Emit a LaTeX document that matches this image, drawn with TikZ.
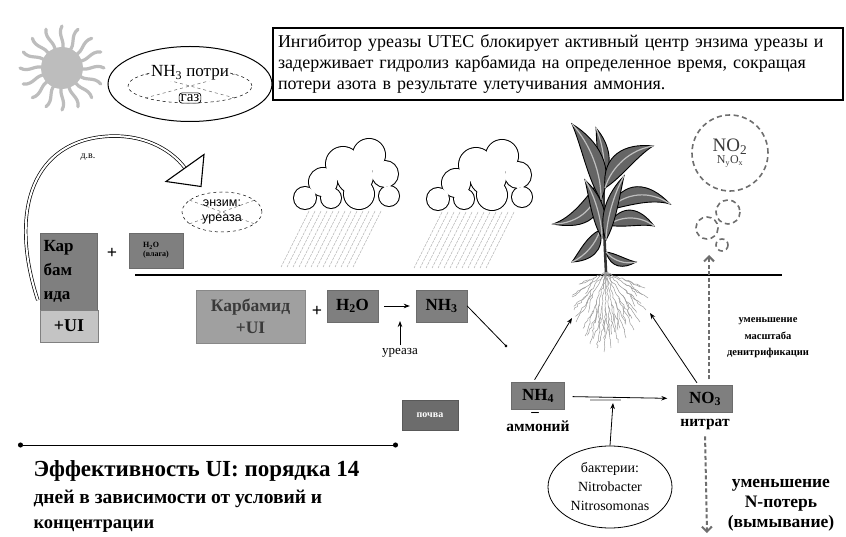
\documentclass[tikz,border=0pt]{standalone}
\usepackage{fontspec}
\setmainfont{Liberation Serif}
\setsansfont{Liberation Sans}
\usepackage{tikz}
\usetikzlibrary{arrows.meta,positioning,calc,shapes.geometric,
                decorations.pathmorphing}
\definecolor{BoxDark}{HTML}{7F7F7F}
\definecolor{BoxMid}{HTML}{A0A0A0}
\definecolor{BoxPale}{HTML}{C4C4C4}
\definecolor{InkGray}{HTML}{3A3A3A}
\definecolor{SunGray}{HTML}{BDBDBD}
\definecolor{LeafGray}{HTML}{656565}
\definecolor{RootGray}{HTML}{9C9C9C}
\definecolor{GasGray}{HTML}{6E6E6E}

\newcommand{\fsz}[2]{\fontsize{#1}{#2}\selectfont}
% one leaf: base, tip, bend, half width
\newcommand{\cornleaf}[4]{%
  \filldraw[leafbody] (#1)
    .. controls ($(#1)!.3!(#2)!{(#3+#4)*1pt}!90:(#2)$)
             and ($(#1)!.7!(#2)!{(#3+.6*#4)*1pt}!90:(#2)$) .. (#2)
    .. controls ($(#1)!.7!(#2)!{(#3-.6*#4)*1pt}!90:(#2)$)
             and ($(#1)!.3!(#2)!{(#3-#4)*1pt}!90:(#2)$) .. (#1) -- cycle;
  \draw[leafvein] (#1)
    .. controls ($(#1)!.3!(#2)!{#3*1pt}!90:(#2)$)
             and ($(#1)!.7!(#2)!{#3*1pt}!90:(#2)$) .. (#2);}

\tikzset{
  pics/raincloud/.style={code={
    \foreach \cx/\cy/\r in {12/60/11,30/44/14,50/26/17,76/17/16,92/36/13,
                            96/58/10,66/56/15,38/60/10,62/38/18}
      \filldraw[white,draw=black,line width=2pt] (\cx,\cy) circle (\r);
    \foreach \cx/\cy/\r in {12/60/11,30/44/14,50/26/17,76/17/16,92/36/13,
                            96/58/10,66/56/15,38/60/10,62/38/18}
      \fill[white] (\cx,\cy) circle (\r);
    \foreach \i in {0,...,12}
      \draw[rainline] (16+\i*6,73) -- ++(-28,56);
  }}}

\begin{document}
\begin{tikzpicture}[x=1pt,y=-1pt,
  darkbox/.style={rectangle,fill=BoxDark,draw=BoxDark!85!black,line width=.4pt,
                  inner sep=0pt,font=\fsz{17}{20}\bfseries},
  midbox/.style={darkbox,fill=BoxMid,draw=BoxMid!85!black},
  arr/.style={-{Stealth[length=6pt,width=4.5pt]},line width=.8pt},
  gasring/.style={draw=GasGray,dashed,dash pattern=on 5pt off 3.5pt,line width=1.6pt},
  gasarr/.style={gasring,-{Straight Barb[length=5pt,width=10pt]},line width=2pt,
                 dash pattern=on 4pt off 2.5pt},
  rainline/.style={gray!65,line width=.45pt,dash pattern=on 3pt off 1pt},
  sunray/.style={SunGray,line width=3.2pt,line cap=round},
  leafbody/.style={fill=LeafGray,draw=black,line width=.9pt},
  leafvein/.style={gray!50,line width=1.2pt},
  rootline/.style={RootGray,line width=.5pt,
                   decorate,decoration={random steps,segment length=3pt,amplitude=1pt}},
  crossline/.style={dashed,line width=.5pt,gray!80!black}]

\fill[white] (0,0) rectangle (846,537);
\useasboundingbox (0,0) rectangle (846,537);
\pgfmathsetseed{7}

% sun
\coordinate (sun) at (62,68);
\foreach \a in {0,22.5,...,337.5}
  \draw[sunray] ($(sun)+(\a:18)$) .. controls ($(sun)+(\a+9:27)$)
        and ($(sun)+(\a-9:33)$) .. ($(sun)+(\a:42)$);
\fill[SunGray] (sun) circle (21);

% ammonia loss
\node[draw,ellipse,minimum width=164pt,minimum height=75pt,line width=1pt] (loss) at (190,84) {};
\node[draw,dashed,ellipse,minimum width=124pt,minimum height=34pt,line width=.5pt] (lossin) at (190,86) {};
\draw[crossline] (lossin.165) -- (lossin.-15);
\draw[crossline] (lossin.195) -- (lossin.15);
\node[fill=white,inner sep=1pt,font=\fsz{17}{19}] (losstxt) at (190,73) {NH\textsubscript{3} потри};
\node[draw,fill=white,rounded corners=3pt,inner sep=1.5pt,line width=.7pt,
      font=\fsz{15}{17}] (gas) at (190,98) {газ};

% note on the inhibitor
\node[draw,line width=1.3pt,fill=white,minimum width=570pt,minimum height=72pt,
      text width=560pt,align=left,font=\fsz{18}{21}] (note) at (558,64)
  {Ингибитор уреазы UTEC блокирует активный центр энзима уреазы и\\
   задерживает гидролиз карбамида на определенное время, сокращая\\
   потери азота в результате улетучивания аммония.};

% surface application
\node[darkbox,minimum width=57pt,minimum height=77pt,text width=50pt,align=left,
      font=\fsz{17}{24}\bfseries] (karb) at (68.5,271.5) {Кар\\бам\\ида};
\node[darkbox,fill=BoxPale,draw=gray,minimum width=58pt,minimum height=32pt,
      font=\fsz{18}{20}\bfseries] (karbui) at (69,326) {+UI};
\node[font=\fsz{18}{20}\bfseries] (plusa) at (112,253) {+};
\node[darkbox,minimum width=54pt,minimum height=35pt,align=left,
      font=\fsz{8}{9}\bfseries] (h2oa) at (156,250.5) {H\textsubscript{2}O\\(влага)};
\node[font=\fsz{10}{12}] (dv) at (88,157) {д.в.};

\node[draw,dashed,ellipse,minimum width=80pt,minimum height=40pt,line width=.5pt] (enzring) at (222,212) {};
\draw[crossline] (enzring.160) -- (enzring.-20);
\draw[crossline] (enzring.200) -- (enzring.20);
\node[align=center,inner sep=0pt,font=\sffamily\fsz{12.5}{15}] (enz) at (222,212) {энзим:\\уреаза};

% double arc with open head
\coordinate (arcend) at (185,168);
\draw[double,double distance=2pt,line width=.7pt]
  ($(karb.south west)+(-2,-10)$) .. controls (10,215) and (30,146) .. (100,137)
  .. controls (140,132) and (170,148) .. (arcend);
\draw[fill=white,line width=1.1pt,line join=miter]
  ($(arcend)+(19,-13.5)$) -- ($(arcend)+(16,18.5)$) -- ($(arcend)+(-19,13.5)$) -- cycle;

% clouds with rain
\pic at (293,138) {raincloud};
\pic at (426,139) {raincloud};

% soil surface
\draw[line width=1.6pt] (135,275) -- (782,275);

% roots
\coordinate (rootbase) at (606,272);
\foreach \ex/\ey in {572/297,574/310,576/322,585/336,590/344,597/348,604/352,
                     611/348,618/343,626/338,634/330,640/322,646/310,648/298,645/288,580/284}{
  \draw[rootline] (rootbase) -- (\ex,\ey);
  \draw[rootline] ($(rootbase)!.45!(\ex,\ey)$) -- ($(rootbase)!.75!(\ex,\ey)+(5,3)$);
  \draw[rootline] ($(rootbase)!.6!(\ex,\ey)$) -- ($(rootbase)!.85!(\ex,\ey)+(-5,2)$);
}

% plant
\draw[line width=2.6pt,black!80] (606,272) .. controls (604,230) .. (603,160);
\cornleaf{604,178}{596,128}{-4}{9}
\cornleaf{600,180}{553,224}{18}{15}
\cornleaf{601,200}{572,124}{-10}{15}
\cornleaf{605,188}{653,146}{12}{15}
\cornleaf{608,210}{670,204}{16}{14}
\cornleaf{600,230}{572,262}{6}{12}
\cornleaf{608,225}{654,226}{10}{13}
\cornleaf{602,238}{585,180}{-5}{10}
\cornleaf{606,240}{624,176}{5}{10}
\cornleaf{606,252}{636,262}{-6}{8}

% under the surface
\node[midbox,minimum width=109pt,minimum height=53pt,align=center,text=InkGray,
      font=\fsz{17.5}{22}\bfseries] (karbamid) at (250.5,316.5) {Карбамид\\+UI};
\node[font=\fsz{18}{20}\bfseries] (plusb) at (317,311) {+};
\node[darkbox,minimum width=51pt,minimum height=32pt] (h2ob) at (352.5,306) {H\textsubscript{2}O};
\node[darkbox,minimum width=51pt,minimum height=32pt] (nh3) at (441.5,306) {NH\textsubscript{3}};
\node[font=\fsz{13}{15}] (ureaza) at (400,353) {уреаза};
\coordinate (cat) at (400,321);
\coordinate (nh3tip) at (507,347);
\draw[arr,shorten <=6pt,shorten >=6pt] (h2ob) -- (nh3);
\draw[arr] (ureaza.north) -- (cat);
\draw[line width=.8pt,-{Circle[length=3pt]}] (nh3.east) -- (nh3tip);

\node[darkbox,fill=BoxDark!85!black,draw=BoxDark!70!black,text=white,minimum width=56pt,
      minimum height=30pt,font=\fsz{10}{12}\bfseries] (soil) at (430,415) {почва};

% nitrogen in the soil
\node[darkbox,minimum width=53pt,minimum height=27pt] (nh4) at (538,396) {NH\textsubscript{4}};
\node[font=\fsz{15}{16}\bfseries,inner sep=1pt] (nh4dash) at (535,414) {--};
\node[font=\fsz{15.5}{17}\bfseries,below=8pt of nh4] (ammon) {аммоний};
\node[darkbox,minimum width=55pt,minimum height=27pt] (no3) at (705,399) {NO\textsubscript{3}};
\node[font=\fsz{15.5}{17}\bfseries,below=3pt of no3] (nitrat) {нитрат};
\node[draw,ellipse,minimum width=124pt,minimum height=82pt,line width=.8pt,align=center,
      font=\fsz{14}{19}] (bact) at (610,487) {бактерии:\\Nitrobacter\\Nitrosomonas};
\coordinate (nitrif) at (613,403);
\coordinate (rootL) at (572,318);
\coordinate (rootR) at (650,313);
\draw[arr,shorten <=8pt,shorten >=10pt] (nh4) -- (no3);
\draw[gray!55,line width=1.8pt] (590,400) -- (621,400);
\draw[arr] (bact.north) -- (nitrif);
\draw[arr,shorten <=3pt] (nh4.110) -- (rootL);
\draw[arr,shorten <=3pt] (no3.115) -- (rootR);

% gaseous losses
\node[gasring,circle,minimum size=76pt,align=center,text=InkGray,inner sep=0pt] (no2) at (730,153)
  {{\fsz{19}{20}NO\textsubscript{2}}\\{\fsz{12}{14}N\textsubscript{y}O\textsubscript{x}}};
\draw[gasring] (728,212) circle (12);
\draw[gasring] (707,228) circle (11);
\draw[gasring] (722,245) circle (6);
\coordinate (denittop) at (709,255);
\coordinate (leachend) at (707,533);
\draw[gasarr,shorten <=6pt] ($(no3.north)+(4,0)$) -- (denittop);
\draw[gasarr,shorten <=3pt] (nitrat.south) -- (leachend);
\node[align=center,font=\fsz{10.5}{16.5}\bfseries] (denit) at (768,338)
  {уменьшение\\масштаба\\денитрификации};
\node[align=center,font=\fsz{17.5}{20}\bfseries] (leach) at (781,505)
  {уменьшение\\N-потерь\\(вымывание)};

% effect duration
\coordinate (spanL) at (18,445);
\coordinate (spanR) at (398,445);
\draw[line width=1pt,{Circle[length=5pt]}-{Circle[length=5pt]}] (spanL) -- (spanR);
\node[anchor=base west,font=\fsz{23}{25}\bfseries] (effa) at (30,476) {Эффективность UI: порядка 14};
\node[anchor=base west,font=\fsz{19.5}{21}\bfseries] (effb) at (30,503) {дней в зависимости от условий и};
\node[anchor=base west,font=\fsz{18.5}{20}\bfseries] (effc) at (30,528) {концентрации};
\end{tikzpicture}
\end{document}
